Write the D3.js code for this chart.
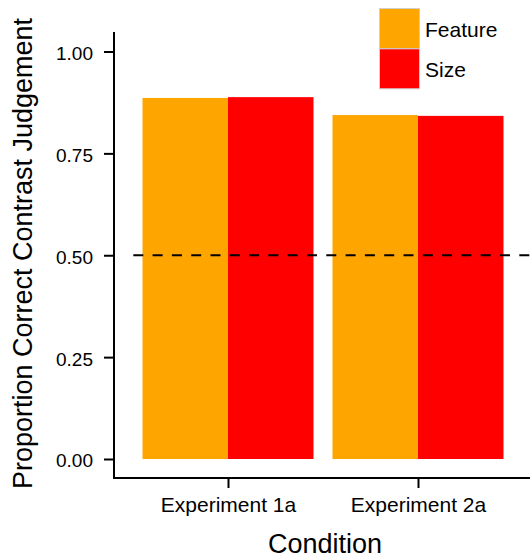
<!DOCTYPE html>
<html>
<head>
<meta charset="utf-8">
<script src="https://cdn.jsdelivr.net/npm/d3@7"></script>
<style>
  html, body { margin: 0; padding: 0; background: #fff; }
  svg { display: block; font-family: "Liberation Sans", Arial, sans-serif; }
</style>
</head>
<body>
<svg id="chart" width="530" height="559"></svg>
<script>
const categories = ["Experiment 1a", "Experiment 2a"];
const seriesNames = ["Feature", "Size"];
const featureValues = [0.886, 0.844];
const sizeValues = [0.888, 0.842];
const yTicks = [0, 0.25, 0.5, 0.75, 1.0];
const yTickLabels = ["0.00", "0.25", "0.50", "0.75", "1.00"];
const chanceLevel = 0.5;
const colors = ["#FFA500", "#FF0000"];

const data = categories.map((c, i) => ({
  cat: c,
  vals: [
    { s: seriesNames[0], v: featureValues[i] },
    { s: seriesNames[1], v: sizeValues[i] }
  ]
}));

const FONT = "Liberation Sans, Arial, sans-serif";
const svg = d3.select("#chart");
const W = 530, H = 559;
const left = 114, right = 532;

const x = d3.scalePoint().domain(categories).range([left, right]).padding(0.6);
const groupW = x.step() * 0.9;
const xs = d3.scaleBand().domain(seriesNames).range([-groupW / 2, groupW / 2]).padding(0);
const y = d3.scaleLinear().domain([0, 1]).range([459, 51.5]);
const color = d3.scaleOrdinal().domain(seriesNames).range(colors);
const yMin = -0.0466, yMax = 1.048;

// bars
const g = svg.append("g");
data.forEach(d => {
  g.selectAll(null).data(d.vals).enter().append("rect")
    .attr("x", e => x(d.cat) + xs(e.s))
    .attr("width", xs.bandwidth())
    .attr("y", e => y(e.v))
    .attr("height", e => y(0) - y(e.v))
    .attr("fill", e => color(e.s));
});

// dashed line
svg.append("line")
  .attr("x1", left + 19.3).attr("x2", W)
  .attr("y1", y(chanceLevel)).attr("y2", y(chanceLevel))
  .attr("stroke", "#000").attr("stroke-width", 2)
  .attr("stroke-dasharray", "10,9.3");

// y axis
const yAxis = d3.axisLeft(y).tickValues(yTicks).tickFormat((d, i) => yTickLabels[i]).tickSizeOuter(0).tickSize(10).tickPadding(11);
const ya = svg.append("g").attr("transform", `translate(${left},0)`).call(yAxis);
ya.select(".domain").remove();
ya.selectAll(".tick line").attr("stroke", "#000").attr("stroke-width", 2);
ya.selectAll(".tick text").attr("font-size", 19).attr("dy", "0.42em").attr("fill", "#000").attr("font-family", FONT);
svg.append("line").attr("x1", left).attr("x2", left).attr("y1", y(yMax)).attr("y2", y(yMin) + 1)
  .attr("stroke", "#000").attr("stroke-width", 2);

// x axis
const xBase = y(yMin);
const xAxis = d3.axisBottom(x).tickSizeOuter(0).tickSize(10).tickPadding(9);
const xa = svg.append("g").attr("transform", `translate(0,${xBase})`).call(xAxis);
xa.select(".domain").remove();
xa.selectAll(".tick line").attr("stroke", "#000").attr("stroke-width", 2);
xa.selectAll(".tick text").attr("font-size", 21).attr("fill", "#000").attr("font-family", FONT);
svg.append("line").attr("x1", left - 1).attr("x2", W).attr("y1", xBase).attr("y2", xBase)
  .attr("stroke", "#000").attr("stroke-width", 2);

// axis titles
svg.append("text").attr("x", 325).attr("y", 553)
  .attr("text-anchor", "middle").attr("font-size", 27).attr("fill", "#000").text("Condition");
svg.append("text").attr("transform", `translate(32,253.5) rotate(-90)`)
  .attr("text-anchor", "middle").attr("font-size", 27).attr("fill", "#000").text("Proportion Correct Contrast Judgement");

// legend
const lg = svg.append("g").attr("transform", "translate(379,8)");
seriesNames.forEach((s, i) => {
  lg.append("rect").attr("x", 0.5).attr("y", i * 40.3 + 0.5).attr("width", 40).attr("height", 40)
    .attr("fill", color(s)).attr("stroke", "#cfcfcf").attr("stroke-width", 1);
  lg.append("text").attr("x", 46).attr("y", i * 39.5 + 29).attr("font-size", 21).attr("fill", "#000").text(s);
});
</script>
</body>
</html>
